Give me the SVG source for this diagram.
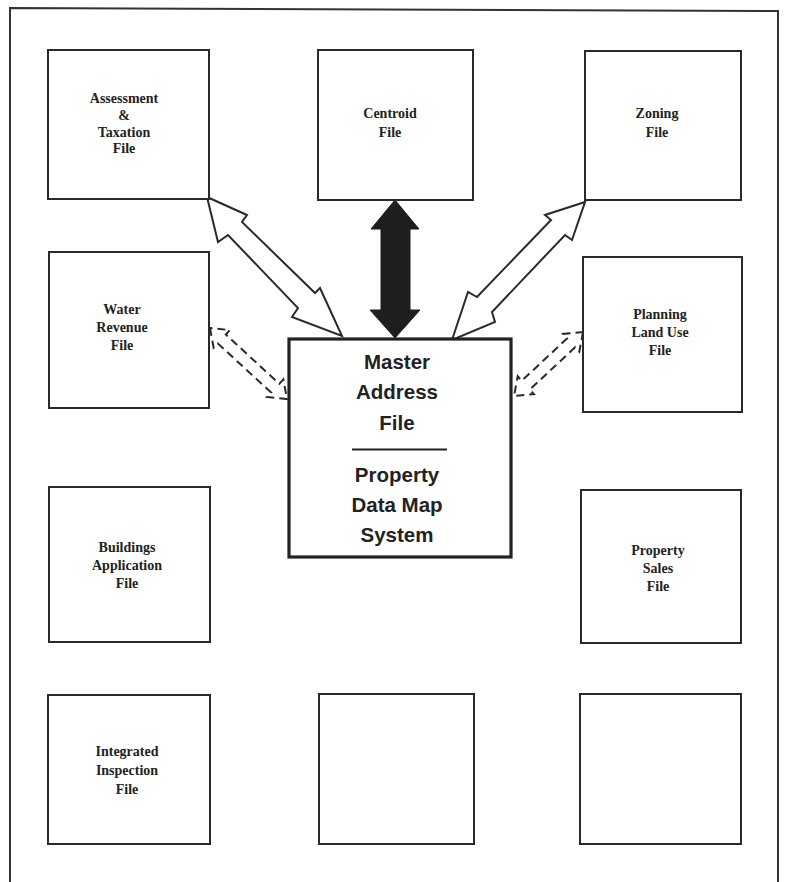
<svg xmlns="http://www.w3.org/2000/svg" width="786" height="882" viewBox="0 0 786 882">
<style>
.box{fill:#fff;stroke:#2a2a2a;stroke-width:2}
.mbox{fill:#fff;stroke:#222;stroke-width:3.2}
.lbl{font-family:"Liberation Serif","Times New Roman",serif;font-weight:bold;font-size:14px;fill:#222;text-anchor:middle}
.mlbl{font-family:"Liberation Sans",Arial,sans-serif;font-weight:bold;font-size:20.5px;fill:#222;text-anchor:middle}
.hollow{fill:#fff;stroke:#2a2a2a;stroke-width:2;stroke-linejoin:miter}
.dash{fill:none;stroke:#2a2a2a;stroke-width:2;stroke-dasharray:8 5}
.solid{fill:#1e1e1e;stroke:#1e1e1e;stroke-width:1}
</style>
<rect width="786" height="882" fill="#fff"/>
<polyline points="10,882 10,8 778,11 778,882" fill="none" stroke="#333" stroke-width="2"/>

<g id="connectors">
<polygon class="hollow" points="207,197 247,215 242,222 315,293 320,288 342,336 292,317 298,308 228,235 218,242"/>
<polygon class="solid" points="395,200 371,229 381,229 381,310 370,310 395,338 420,310 410,310 410,229 419,229"/>
<polygon class="hollow" points="585,202 545,215 551,220 477,297 468,292 452,340 495,322 492,312 565,235 572,240"/>
<polygon class="dash" points="210,328 213.6,347.7 217.7,343.3 271.2,392.6 267.1,397 287,399 283.3,379.4 279.3,383.8 225.8,334.5 229.9,330.1"/>
<polygon class="dash" points="583,332 579.3,351.7 575.2,347.2 529.8,389.6 533.9,394.1 514,396 517.7,376.3 521.7,380.8 567.1,338.4 563.1,333.9"/>
</g>

<g id="assessment">
<rect class="box" x="48" y="50" width="161" height="149"/>
<text class="lbl" x="124" y="103">Assessment</text>
<text class="lbl" x="124" y="120">&amp;</text>
<text class="lbl" x="124" y="137">Taxation</text>
<text class="lbl" x="124" y="153">File</text>
</g>
<g id="centroid">
<rect class="box" x="318" y="50" width="155" height="150"/>
<text class="lbl" x="390" y="118">Centroid</text>
<text class="lbl" x="390" y="137">File</text>
</g>
<g id="zoning">
<rect class="box" x="585" y="51" width="156" height="149"/>
<text class="lbl" x="657" y="118">Zoning</text>
<text class="lbl" x="657" y="137">File</text>
</g>
<g id="water">
<rect class="box" x="49" y="252" width="160" height="156"/>
<text class="lbl" x="122" y="314">Water</text>
<text class="lbl" x="122" y="332">Revenue</text>
<text class="lbl" x="122" y="350">File</text>
</g>
<g id="planning">
<rect class="box" x="583" y="257" width="159" height="155"/>
<text class="lbl" x="660" y="319">Planning</text>
<text class="lbl" x="660" y="337">Land Use</text>
<text class="lbl" x="660" y="355">File</text>
</g>
<g id="master">
<rect class="mbox" x="289" y="339" width="222" height="218"/>
<text class="mlbl" x="397" y="369">Master</text>
<text class="mlbl" x="397" y="399">Address</text>
<text class="mlbl" x="397" y="430">File</text>
<line x1="352" y1="449.5" x2="447" y2="449.5" stroke="#222" stroke-width="2"/>
<text class="mlbl" x="397" y="482">Property</text>
<text class="mlbl" x="397" y="512">Data Map</text>
<text class="mlbl" x="397" y="542">System</text>
</g>
<g id="buildings">
<rect class="box" x="49" y="487" width="161" height="155"/>
<text class="lbl" x="127" y="552">Buildings</text>
<text class="lbl" x="127" y="570">Application</text>
<text class="lbl" x="127" y="588">File</text>
</g>
<g id="sales">
<rect class="box" x="581" y="490" width="160" height="153"/>
<text class="lbl" x="658" y="555">Property</text>
<text class="lbl" x="658" y="573">Sales</text>
<text class="lbl" x="658" y="591">File</text>
</g>
<g id="integrated">
<rect class="box" x="48" y="695" width="162" height="149"/>
<text class="lbl" x="127" y="756">Integrated</text>
<text class="lbl" x="127" y="775">Inspection</text>
<text class="lbl" x="127" y="794">File</text>
</g>
<g id="blank-middle">
<rect class="box" x="319" y="694" width="155" height="150"/>
</g>
<g id="blank-right">
<rect class="box" x="580" y="694" width="161" height="150"/>
</g>
</svg>
